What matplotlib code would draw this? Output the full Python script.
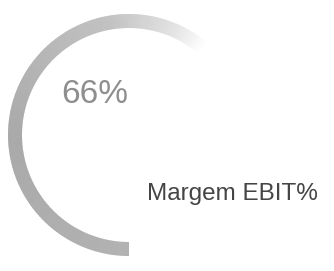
import numpy as np
import matplotlib
matplotlib.use("Agg")
import matplotlib.pyplot as plt
from matplotlib.patches import Wedge
from matplotlib.colors import LinearSegmentedColormap

# data
value = 66
value_label = "66%"
metric_label = "Margem EBIT%"

W, H = 334, 271
fig = plt.figure(figsize=(W / 100, H / 100), dpi=100)
ax = fig.add_axes([0, 0, 1, 1])
ax.set_xlim(0, W)
ax.set_ylim(0, H)
ax.set_aspect("equal")
ax.axis("off")

# gray arc fading out towards its end
cmap = LinearSegmentedColormap.from_list(
    "fade",
    [(0.0, "#b2b2b2"), (0.38, "#a9a9a9"), (0.72, "#c2c2c2"),
     (0.86, "#e4e4e4"), (0.93, "#ffffff"), (1.0, "#ffffff")],
)
cx, cy, r, w = 129, 136, 121, 14
span = value / 100 * 360
start = 270  # 6 o'clock, runs clockwise
n = 240
edges = np.linspace(0, span, n + 1)
for i in range(n):
    t = (edges[i] + edges[i + 1]) / 2 / span
    ax.add_patch(Wedge((cx, cy), r, start - edges[i + 1] - 0.3, start - edges[i],
                       width=w, color=cmap(t), lw=0))

ax.text(94.5, H - 94.5, value_label, ha="center", va="center",
        fontsize=24, color="#8e8e8e", family="Liberation Sans")
ax.text(232, H - 194, metric_label, ha="center", va="center",
        fontsize=17.5, color="#454545", family="Liberation Sans")

fig.savefig("out.png", dpi=100, facecolor="white")
